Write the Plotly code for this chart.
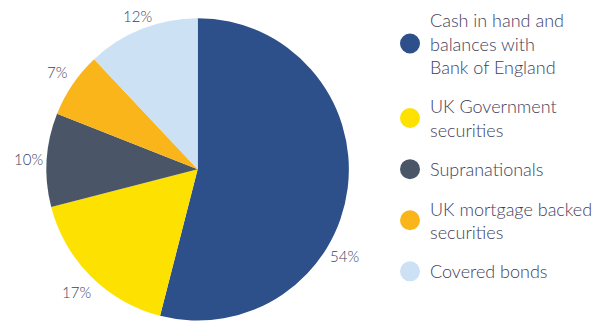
import math
import plotly.graph_objects as go

# Liquidity portfolio composition (%)
categories = [
    "Cash in hand and<br>balances with<br>Bank of England",
    "UK Government<br>securities",
    "Supranationals",
    "UK mortgage backed<br>securities",
    "Covered bonds",
]
shares = [54, 17, 10, 7, 12]
colors = ["#2D4F8A", "#FDE100", "#4A5667", "#F9B51A", "#CCE1F4"]

W, H = 598, 322
TEXT = "#3E3E5E"
FONT = "Lato"

# pie placement (paper domain) and derived pixel geometry
dom_x = [0.0786, 0.5903]
dom_y = [0.0, 0.948]
cx = (dom_x[0] + dom_x[1]) / 2 * W
cy = (1 - (dom_y[0] + dom_y[1]) / 2) * H
radius = min((dom_x[1] - dom_x[0]) * W, (dom_y[1] - dom_y[0]) * H) / 2

fig = go.Figure()
fig.add_trace(go.Pie(
    values=shares,
    labels=[c.replace("<br>", " ") for c in categories],
    marker=dict(colors=colors, line=dict(width=0)),
    sort=False,
    direction="clockwise",
    rotation=0,
    textinfo="none",
    hoverinfo="label+percent",
    showlegend=False,
    domain=dict(x=dom_x, y=dom_y),
))

# legend entries drawn as round markers
for i, (name, col) in enumerate(zip(categories, colors)):
    fig.add_trace(go.Scatter(
        x=[None], y=[None], mode="markers", name=name,
        legendgroup=f"g{i}",
        marker=dict(symbol="circle", size=16, color=col, line=dict(color=col, width=4)),
    ))

# percentage labels placed just outside each slice
label_shift = [23, 0, 0, 0, 0]       # angular nudges (degrees)
label_gap = [19, 21, 19, 20, 12]     # distance beyond the rim (px)
total = sum(shares)
cum = 0
for v, shift, gap in zip(shares, label_shift, label_gap):
    theta = math.radians((cum + v / 2) / total * 360 + shift)
    cum += v
    r = radius + gap
    px = cx + r * math.sin(theta)
    py = cy - r * math.cos(theta)
    fig.add_annotation(
        x=px / W, y=1 - py / H, xref="paper", yref="paper",
        text=f"{v}%", showarrow=False,
        font=dict(family=FONT, size=15, color=TEXT, weight=300),
        xanchor="center", yanchor="middle",
    )

fig.update_layout(
    width=W, height=H,
    margin=dict(l=0, r=0, t=0, b=0),
    paper_bgcolor="white", plot_bgcolor="white",
    xaxis=dict(visible=False, domain=[0.62, 1]),
    yaxis=dict(visible=False),
    legend=dict(
        x=0.66, y=0.994, xanchor="left", yanchor="top",
        font=dict(family=FONT, size=18, color=TEXT, weight=300),
        tracegroupgap=13, itemclick=False,
        bgcolor="rgba(0,0,0,0)",
    ),
)

fig.write_html("out.html")
